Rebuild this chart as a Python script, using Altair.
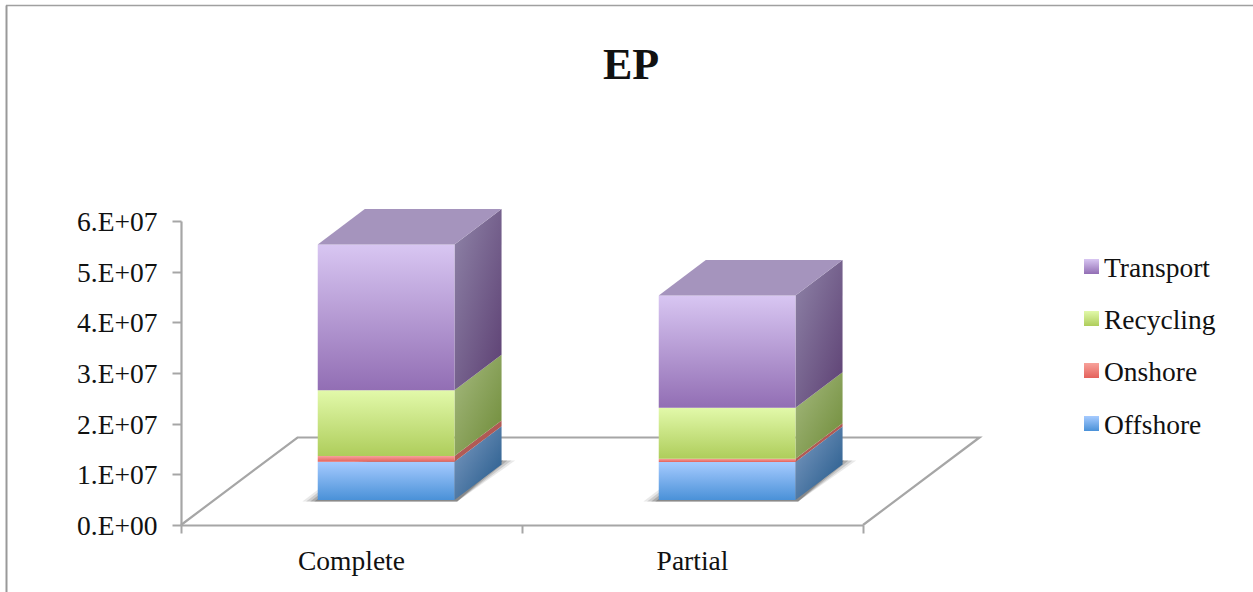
import altair as alt
import pandas as pd

# Chart values
categories = ["Complete", "Partial"]
series_names = ["Offshore", "Onshore", "Recycling", "Transport"]
offshore = [0.756e7, 0.75e7]
onshore = [0.112e7, 0.065e7]
recycling = [1.297e7, 1.007e7]
transport = [2.88e7, 2.216e7]
y_ticks = [0, 1e7, 2e7, 3e7, 4e7, 5e7, 6e7]
x_ticks = [0, 1, 2]

# Oblique projection, in axis units
BAR_LEFT = 0.401
BAR_WIDTH = 0.401
BAR_BASE = 0.493e7
BAR_DX = 0.138
BAR_DY = 0.70e7
FLOOR_DX = 0.3416
FLOOR_DY = 1.727e7

GREY = "#a6a6a6"
FONT = "Liberation Serif"
INK = "#111111"


def grad(top, bottom, diagonal=False):
    return alt.LinearGradient(
        gradient="linear",
        stops=[alt.GradientStop(color=top, offset=0), alt.GradientStop(color=bottom, offset=1)],
        x1=0, y1=0, x2=1 if diagonal else 0, y2=1,
    )


palette = {
    "Offshore": {"front": ("#a6cbff", "#4a91d8"), "side": ("#7f9cc2", "#1f5688")},
    "Onshore": {"front": ("#f7a29b", "#e4615b"), "side": ("#bd6a64", "#a44a46")},
    "Recycling": {"front": ("#e2f9aa", "#aecd5b"), "side": ("#a6ba80", "#6d8a36")},
    "Transport": {"front": ("#d8c6f2", "#926eb4"), "side": ("#8f84a8", "#5c3f72")},
}
values = {"Offshore": offshore, "Onshore": onshore, "Recycling": recycling, "Transport": transport}

xs = alt.Scale(domain=[0, 2], nice=False, zero=False)
ys = alt.Scale(domain=[0, 6e7], nice=False, zero=False)
X = alt.X("x:Q", scale=xs, title=None)
Y = alt.Y("y:Q", scale=ys, title=None)

layers = []

# Axes come first so that the layered chart keeps them
axis_data = pd.DataFrame({"x": [0], "y": [0]})
layers.append(
    alt.Chart(axis_data).mark_point(opacity=0).encode(
        x=alt.X("x:Q", scale=xs, title=None, axis=alt.Axis(
            values=x_ticks, labels=False, grid=False, domainColor=GREY, domainWidth=2.2,
            tickColor=GREY, tickWidth=2, tickSize=8)),
        y=alt.Y("y:Q", scale=ys, title=None, axis=alt.Axis(
            values=y_ticks, grid=False, domainColor=GREY, domainWidth=2.2,
            tickColor=GREY, tickWidth=2, tickSize=9, labelPadding=15, labelOffset=1.5,
            labelFont=FONT, labelFontSize=27.5, labelColor=INK,
            labelExpr="(datum.value / 1e7) + (datum.value ? '.E+07' : '.E+00')")),
    )
)

# Floor outline behind the bars
floor = pd.DataFrame({
    "x": [0, FLOOR_DX, 2 + FLOOR_DX, 2],
    "y": [0, FLOOR_DY, FLOOR_DY, 0],
    "o": [0, 1, 2, 3],
})
layers.append(
    alt.Chart(floor).mark_line(color=GREY, strokeWidth=2.2).encode(x=X, y=Y, order="o:Q")
)

# Soft shadows on the floor
for i in range(len(categories)):
    left = i + BAR_LEFT
    right = left + BAR_WIDTH
    for spread, alpha in [(0.045, 0.12), (0.034, 0.18), (0.022, 0.26), (0.01, 0.34)]:
        shadow = pd.DataFrame({
            "y": [BAR_BASE - 0.03e7, BAR_BASE + BAR_DY + 0.08e7],
            "x": [left - spread, left + BAR_DX - spread + 0.02],
            "x2": [right + 0.008, right + BAR_DX + spread - 0.005],
        })
        layers.append(
            alt.Chart(shadow).mark_area(orient="horizontal", color="#4a4a4a", opacity=alpha).encode(
                y=Y, x=X, x2="x2:Q"
            )
        )

# Stacked blocks: one front, side pair for each segment
for name in series_names:
    rows_front, rows_side = [], []
    for i, cat in enumerate(categories):
        bottom = BAR_BASE + sum(values[s][i] for s in series_names[: series_names.index(name)])
        top = bottom + values[name][i]
        left = i + BAR_LEFT
        right = left + BAR_WIDTH
        rows_front.append({"cat": cat, "x": left, "x2": right, "y": bottom, "y2": top})
        rows_side.append({"cat": cat, "x": right, "y": bottom, "y2": top})
        rows_side.append({"cat": cat, "x": right + BAR_DX, "y": bottom + BAR_DY, "y2": top + BAR_DY})
    side_top, side_bottom = palette[name]["side"]
    front_top, front_bottom = palette[name]["front"]
    layers.append(
        alt.Chart(pd.DataFrame(rows_side)).mark_area(
            fill=grad(side_top, side_bottom, diagonal=True)
        ).encode(x=X, y=Y, y2="y2:Q", detail="cat:N")
    )
    layers.append(
        alt.Chart(pd.DataFrame(rows_front)).mark_rect(
            fill=grad(front_top, front_bottom)
        ).encode(x=X, x2="x2:Q", y=Y, y2="y2:Q")
    )

# Lid of each column
lid_rows = []
for i, cat in enumerate(categories):
    top = BAR_BASE + sum(values[s][i] for s in series_names)
    left = i + BAR_LEFT
    right = left + BAR_WIDTH
    lid_rows.append({"cat": cat, "y": top, "x": left, "x2": right})
    lid_rows.append({"cat": cat, "y": top + BAR_DY, "x": left + BAR_DX, "x2": right + BAR_DX})
layers.append(
    alt.Chart(pd.DataFrame(lid_rows)).mark_area(orient="horizontal", color="#a594bd").encode(
        y=Y, x=X, x2="x2:Q", detail="cat:N"
    )
)

# Category labels
labels = pd.DataFrame({"x": [i + 0.5 for i in range(len(categories))], "t": categories})
layers.append(
    alt.Chart(labels).mark_text(
        font=FONT, fontSize=27.5, color=INK, align="center", baseline="alphabetic"
    ).encode(x=X, y=alt.value(349), text="t:N")
)

# Legend
legend_pos = {"Transport": 38, "Recycling": 90, "Onshore": 142, "Offshore": 195}
for name, top_px in legend_pos.items():
    a, b = palette[name]["front"]
    one = pd.DataFrame({"t": [name]})
    layers.append(
        alt.Chart(one).mark_rect(fill=grad(a, b)).encode(
            x=alt.value(903), x2=alt.value(918), y=alt.value(top_px), y2=alt.value(top_px + 15)
        )
    )
    layers.append(
        alt.Chart(one).mark_text(
            font=FONT, fontSize=27.5, color=INK, align="left", baseline="alphabetic"
        ).encode(x=alt.value(923), y=alt.value(top_px + 18), text="t:N")
    )

# Frame of the chart area, cut off at the right and bottom
layers.append(
    alt.Chart(axis_data).mark_rule(color="#a0a0a0", strokeWidth=1.6).encode(
        x=alt.value(-175), x2=alt.value(1072), y=alt.value(-215.5)
    )
)
layers.append(
    alt.Chart(axis_data).mark_rule(color="#999999", strokeWidth=2).encode(
        x=alt.value(-174.5), y=alt.value(-215.5), y2=alt.value(371)
    )
)

# Chart heading
layers.append(
    alt.Chart(pd.DataFrame({"t": ["EP"]})).mark_text(
        font=FONT, fontSize=44, fontWeight="bold", color=INK, align="center", baseline="alphabetic"
    ).encode(x=alt.value(450), y=alt.value(-142), text="t:N")
)

chart = alt.layer(*layers).properties(
    width=682,
    height=304,
    padding={"left": 181, "top": 221, "right": 390, "bottom": 67},
    autosize=alt.AutoSizeParams(type="none"),
).configure_view(stroke=None)

chart.save("out.html", embed_options={"renderer": "svg", "actions": False})
